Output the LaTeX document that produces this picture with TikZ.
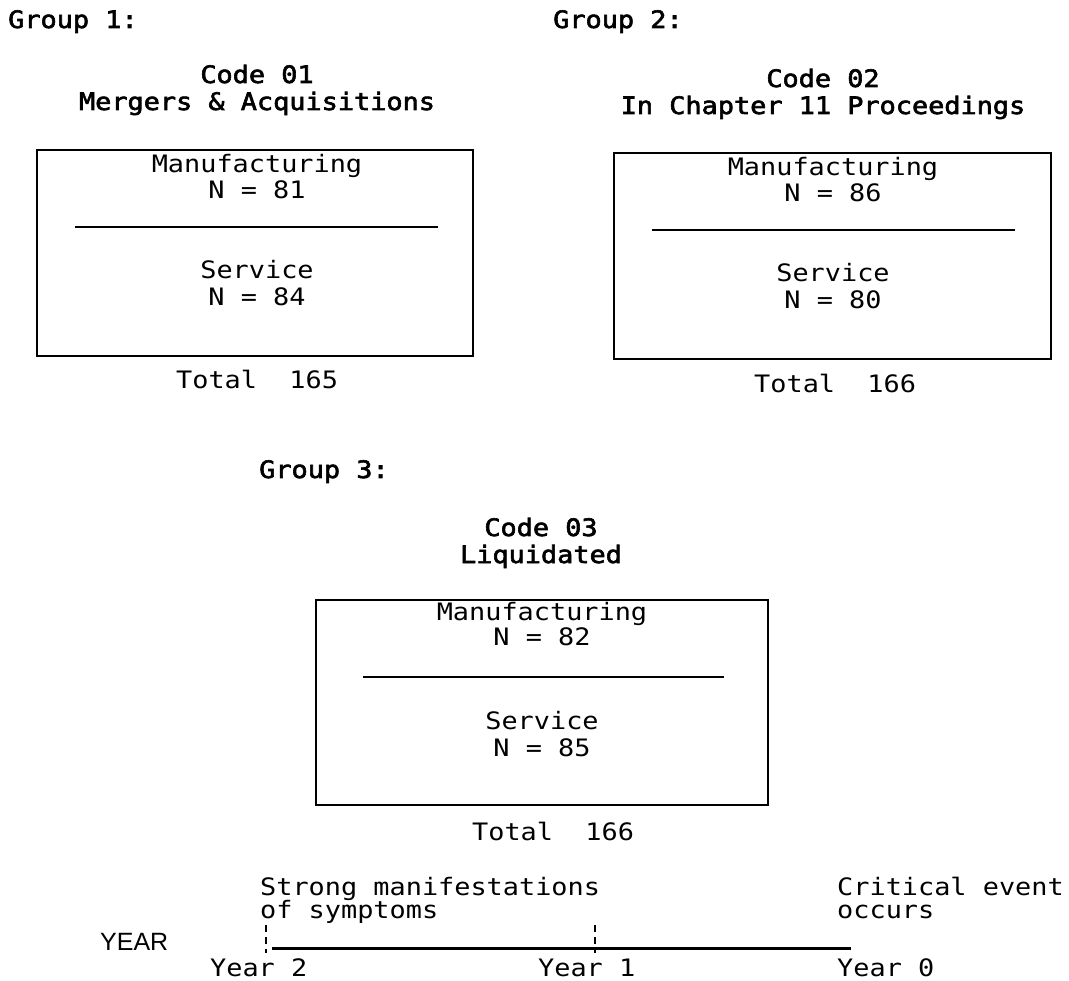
\documentclass[tikz,border=0pt]{standalone}
\usepackage{fontspec}
\setmonofont{DejaVu Sans Mono}[FakeStretch=1.12]
\newfontfamily\hdfont{DejaVu Sans Mono}[FakeStretch=1.12,FakeBold=2.5]
\newfontfamily\yrfont{Liberation Sans}
\begin{document}
\begin{tikzpicture}[x=1pt,y=-1pt,
  txt/.style={inner sep=0pt,font=\ttfamily\fontsize{24}{28}\selectfont},
  hd/.style={inner sep=0pt,font=\hdfont\fontsize{24}{28}\selectfont},
  cbase/.style={anchor=base},
  lbase/.style={anchor=base west},
  frame/.style={draw,line width=1.5pt},
  divider/.style={line width=1.3pt},
  axis/.style={line width=3pt},
  tick/.style={line width=1.3pt,dash pattern=on 7pt off 5pt}]
\useasboundingbox (0,0) rectangle (1069,981);
% Group headings
\node[hd,lbase] (g1) at (8,28) {Group 1:};
\node[hd,lbase] (g2) at (553,28) {Group 2:};
\node[hd,lbase] (g3) at (259,478) {Group 3:};
% Group 1
\node[hd,cbase] (c1) at (257,83) {Code 01};
\node[hd,cbase] (t1) at (257,110) {Mergers \& Acquisitions};
\node[frame,minimum width=436pt,minimum height=206pt,inner sep=0pt] (b1) at (255,253) {};
\node[txt,cbase] (m1) at (257,173) {Manufacturing};
\node[txt,cbase] (n1) at (257,199) {N = 81};
\coordinate (d1a) at (75,227);
\coordinate (d1b) at (438,227);
\draw[divider] (d1a) -- (d1b);
\node[txt,cbase] (s1) at (257,279) {Service};
\node[txt,cbase] (k1) at (257,306) {N = 84};
\node[txt,lbase] (tot1) at (176,389) {Total\ \ 165};
% Group 2
\node[hd,cbase] (c2) at (823,87) {Code 02};
\node[hd,cbase] (t2) at (823,114) {In Chapter 11 Proceedings};
\node[frame,minimum width=437pt,minimum height=206pt,inner sep=0pt] (b2) at (832.5,256) {};
\node[txt,cbase] (m2) at (833,176) {Manufacturing};
\node[txt,cbase] (n2) at (833,202) {N = 86};
\coordinate (d2a) at (652,230);
\coordinate (d2b) at (1015,230);
\draw[divider] (d2a) -- (d2b);
\node[txt,cbase] (s2) at (833,282) {Service};
\node[txt,cbase] (k2) at (833,309) {N = 80};
\node[txt,lbase] (tot2) at (754,393) {Total\ \ 166};
% Group 3
\node[hd,cbase] (c3) at (541,536) {Code 03};
\node[hd,cbase] (t3) at (541,563) {Liquidated};
\node[frame,minimum width=452pt,minimum height=205pt,inner sep=0pt] (b3) at (542,702.5) {};
\node[txt,cbase] (m3) at (542,620) {Manufacturing};
\node[txt,cbase] (n3) at (542,645) {N = 82};
\coordinate (d3a) at (363,677);
\coordinate (d3b) at (724,677);
\draw[divider] (d3a) -- (d3b);
\node[txt,cbase] (s3) at (542,729) {Service};
\node[txt,cbase] (k3) at (542,756) {N = 85};
\node[txt,lbase] (tot3) at (472,840) {Total\ \ 166};
% Timeline
\node[txt,lbase] (sm1) at (260,895) {Strong manifestations};
\node[txt,lbase] (sm2) at (260,918) {of symptoms};
\node[txt,lbase] (ce1) at (837,895) {Critical event};
\node[txt,lbase] (ce2) at (837,918) {occurs};
\node[inner sep=0pt,lbase,font=\yrfont\fontsize{25}{29}\selectfont] (yr) at (100,950) {YEAR};
\coordinate (y2) at (266,948);
\coordinate (y1) at (595,948);
\coordinate (y0) at (851,948);
\coordinate (y2top) at (266,925);
\coordinate (y2bot) at (266,953);
\coordinate (y1top) at (595,925);
\coordinate (y1bot) at (595,953);
\draw[tick] (y2top) -- (y2bot);
\draw[tick] (y1top) -- (y1bot);
\draw[axis] ([xshift=6pt]y2) -- (y0);
\node[txt,lbase] (l2) at (210,976) {Year 2};
\node[txt,lbase] (l1) at (538,976) {Year 1};
\node[txt,lbase] (l0) at (837,976) {Year 0};
\end{tikzpicture}
\end{document}
